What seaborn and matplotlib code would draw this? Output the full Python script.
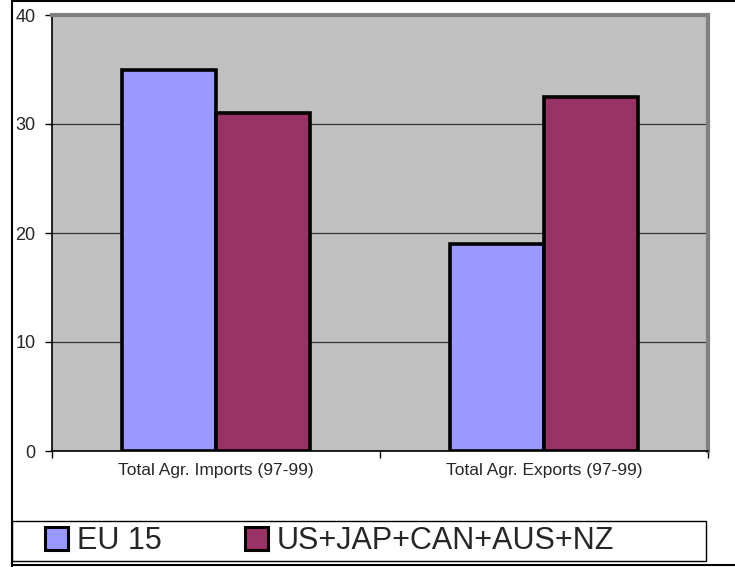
import pandas as pd
import matplotlib
matplotlib.use("Agg")
import matplotlib.pyplot as plt
from matplotlib.patches import Patch, Rectangle
from matplotlib.lines import Line2D
import seaborn as sns

# === datos ===
categories = ["Total Agr. Imports (97-99)", "Total Agr. Exports (97-99)"]
groups = ["EU 15", "US+JAP+CAN+AUS+NZ"]
eu15 = [35, 19]
others = [31, 32.5]
colors = ["#9999FF", "#993366"]

df = pd.DataFrame({
    "cat": categories * 2,
    "grupo": [groups[0]] * 2 + [groups[1]] * 2,
    "valor": eu15 + others,
})

sns.set_style("white")
plt.rcParams["font.family"] = ["Liberation Sans", "DejaVu Sans"]

W, H = 735, 567
fig = plt.figure(figsize=(W / 100, H / 100), dpi=100)
ax = fig.add_axes([52 / W, 1 - 451 / H, (708 - 52) / W, (451 - 15) / H])

sns.barplot(data=df, x="cat", y="valor", hue="grupo", order=categories,
            hue_order=groups, palette=colors, width=0.575, gap=0,
            edgecolor="black", linewidth=2.6, saturation=1, ax=ax, legend=False)

ax.set_facecolor("#C0C0C0")
ax.set_xlim(-0.5, 1.5)
ax.set_ylim(0, 40)
ax.set_yticks([0, 10, 20, 30, 40])
ax.yaxis.grid(True, color="#333333", linewidth=0.9)
ax.set_axisbelow(True)
ax.set_xlabel("")
ax.set_ylabel("")

ax.tick_params(axis="y", direction="out", length=5, width=1, color="black",
               labelsize=13, pad=7, left=True)
ax.tick_params(axis="x", which="major", length=0, labelsize=12.5, pad=9)
ax.set_xticks([-0.5, 0.5, 1.5], minor=True)
ax.tick_params(axis="x", which="minor", direction="out", length=5, width=1,
               color="black", bottom=True)

for s in ["left", "bottom"]:
    ax.spines[s].set_color("black")
    ax.spines[s].set_linewidth(1.2)
for s in ["top", "right"]:
    ax.spines[s].set_color("#808080")
    ax.spines[s].set_linewidth(3)

# borde de la figura
fig.add_artist(Line2D([12 / W, 12 / W], [0, 1], color="black", lw=1.5,
                      transform=fig.transFigure))
fig.add_artist(Line2D([12 / W, 1], [1 - 1 / H, 1 - 1 / H], color="black", lw=1.5,
                      transform=fig.transFigure))
fig.add_artist(Line2D([12 / W, 1], [1 - 565 / H, 1 - 565 / H], color="black", lw=1.5,
                      transform=fig.transFigure))

# leyenda
fig.add_artist(Rectangle((12 / W, 1 - 561 / H), 694 / W, 40 / H, facecolor="white",
                         edgecolor="black", lw=1, transform=fig.transFigure))
handles = [Patch(facecolor=c, edgecolor="black", linewidth=2.2) for c in colors]
for h, g, x0 in zip(handles, groups, [45, 245]):
    fig.legend([h], [g], loc="center left",
               bbox_to_anchor=(x0 / W, 1 - 541 / H), frameon=False,
               fontsize=22, handlelength=0.75, handleheight=0.75,
               handletextpad=0.3, borderaxespad=0, borderpad=0)

fig.savefig("out.png", dpi=100)
